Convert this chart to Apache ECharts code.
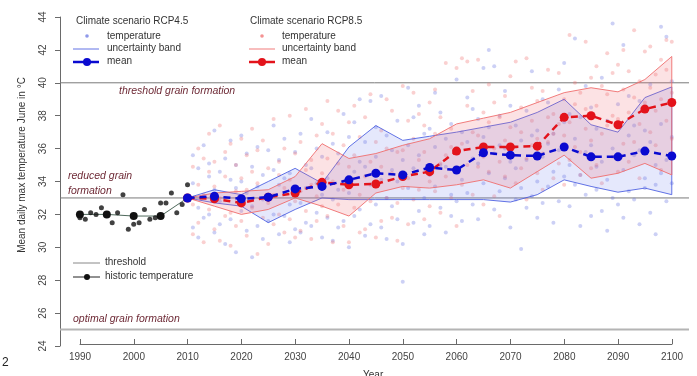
<!DOCTYPE html>
<html>
<head>
<meta charset="utf-8">
<script src="https://cdn.jsdelivr.net/npm/echarts@6/dist/echarts.min.js"></script>
<style>
html,body{margin:0;padding:0;background:#fff;}
#c{width:697px;height:376px;}
</style>
</head>
<body>
<div id="c"></div>
<script>
// ---- data ----
const projYears = [2010,2015,2020,2025,2030,2035,2040,2045,2050,2055,2060,2065,2070,2075,2080,2085,2090,2095,2100];
const rcp45Mean  = [33.0,33.1,32.95,33.05,33.55,33.7,34.1,34.5,34.4,34.85,34.7,35.75,35.6,35.55,36.1,35.5,35.5,35.85,35.55];
const rcp85Mean  = [33.0,32.95,32.7,33.05,33.3,33.95,33.8,33.85,34.3,34.6,35.85,36.1,36.1,36.15,37.9,38.0,37.45,38.4,38.8];
const rcp45Upper = [33.0,33.5,33.2,34.0,34.8,33.9,36.1,37.4,36.5,36.75,37.0,37.3,37.6,38.2,39.0,37.45,37.0,39.1,39.75];
const rcp45Lower = [33.0,32.7,32.5,31.5,32.3,33.0,32.9,32.9,32.9,32.9,32.9,32.9,32.75,33.2,34.1,33.7,33.35,33.6,33.2];
const rcp85Upper = [33.0,33.3,33.4,33.5,34.3,36.3,35.4,35.7,36.2,36.6,37.5,37.85,38.2,38.8,39.4,39.7,39.45,40.2,41.6];
const rcp85Lower = [33.0,32.5,32.0,32.3,33.0,32.5,31.9,33.3,33.7,33.6,33.8,34.1,33.6,34.6,35.6,34.2,34.5,35.1,34.4];

const histYears = [1990,1991,1992,1993,1994,1995,1996,1997,1998,1999,2000,2001,2002,2003,2004,2005,2006,2007,2008,2009,2010];
const histTemps = [31.8,31.7,32.1,32.0,32.4,32.0,31.5,32.1,33.2,31.1,31.4,31.5,32.3,31.7,31.8,32.7,32.7,33.3,32.1,32.6,33.8];
const histMeanYears = [1990,1995,2000,2005,2010];
const histMeans = [32.0,32.0,31.9,31.9,33.0];

const thresholdLevels = [25,33,40];

// yearly model values: [year, run1, run2, run3]
const rcp45Runs = [
[2011,31.2,33.9,35.6],[2012,32.4,34.8,30.6],[2013,33.1,36.2,31.8],[2014,34.3,32.0,35.1],[2015,30.9,33.5,37.1],
[2016,32.8,34.6,31.4],[2017,35.4,33.0,30.2],[2018,31.7,34.1,36.5],[2019,33.6,29.7,35.0],[2020,32.2,36.8,34.0],
[2021,31.0,33.3,35.7],[2022,34.9,32.5,29.4],[2023,33.7,36.1,31.3],[2024,30.5,34.4,32.9],[2025,35.9,33.1,31.6],
[2026,32.0,34.7,37.4],[2027,33.8,30.8,35.3],[2028,31.9,36.6,34.2],[2029,34.5,32.6,30.3],[2030,33.4,35.8,31.1],
[2031,32.7,36.9,30.9],[2032,35.0,33.6,31.5],[2033,31.3,34.8,37.8],[2034,33.9,32.1,36.0],[2035,30.6,35.5,33.2],
[2036,34.2,31.8,37.0],[2037,32.9,36.3,30.4],[2038,35.7,33.5,31.2],[2039,31.6,34.0,38.1],[2040,33.3,36.7,30.0],
[2041,34.6,31.9,37.6],[2042,32.3,35.2,39.0],[2043,30.7,34.9,36.4],[2044,33.8,38.9,31.4],[2045,35.5,32.6,37.3],
[2046,31.2,34.1,39.2],[2047,36.8,33.0,30.5],[2048,32.5,35.9,34.7],[2049,34.0,37.7,31.7],[2050,30.2,35.3,27.9],
[2051,33.6,36.2,39.7],[2052,31.5,34.8,37.9],[2053,35.6,32.2,38.6],[2054,33.0,36.9,30.8],[2055,34.4,31.3,37.2],
[2056,36.1,33.7,39.4],[2057,32.4,35.0,38.2],[2058,34.9,30.9,36.6],[2059,33.2,37.5,31.9],[2060,35.8,32.8,40.2],
[2061,34.1,37.0,31.6],[2062,36.4,33.3,39.1],[2063,32.6,35.4,38.4],[2064,35.1,31.7,37.8],[2065,33.9,36.7,40.9],
[2066,37.3,34.5,42.0],[2067,35.7,32.3,41.0],[2068,33.4,38.0,36.2],[2069,36.0,34.2,39.5],[2070,31.2,35.2,38.6],
[2071,34.8,37.4,32.9],[2072,36.5,33.6,29.9],[2073,35.3,38.3,32.4],[2074,33.1,36.8,40.7],[2075,37.1,34.0,31.8],
[2076,35.5,39.0,32.7],[2077,33.7,36.3,38.8],[2078,36.9,34.6,31.5],[2079,32.8,35.9,39.6],[2080,37.6,34.3,41.2],
[2081,35.0,32.5,38.1],[2082,36.6,42.7,33.8],[2083,34.4,37.9,31.3],[2084,35.8,33.2,39.8],[2085,36.2,31.9,38.5],
[2086,33.5,37.2,34.9],[2087,35.2,40.3,32.2],[2088,37.7,34.1,31.0],[2089,33.0,36.0,43.6],[2090,35.4,38.7,32.6],
[2091,34.7,42.3,31.8],[2092,36.8,33.4,39.2],[2093,32.9,35.6,37.4],[2094,35.9,31.4,38.9],[2095,34.2,37.1,33.6],
[2096,36.4,39.9,32.1],[2097,33.8,35.0,30.8],[2098,37.5,43.4,34.5],[2099,35.3,42.8,32.8],[2100,36.7,33.9,40.1]
];
const rcp85Runs = [
[2011,32.6,34.9,30.8],[2012,33.8,31.5,36.0],[2013,30.3,33.2,35.4],[2014,34.6,32.3,36.9],[2015,31.1,33.7,35.2],
[2016,33.0,30.4,37.4],[2017,34.3,31.9,35.8],[2018,32.1,36.3,30.1],[2019,35.0,33.4,31.3],[2020,31.6,34.2,36.6],
[2021,33.5,30.7,35.6],[2022,32.4,37.2,34.6],[2023,29.6,33.9,35.9],[2024,31.8,36.5,33.0],[2025,34.8,30.2,32.7],
[2026,33.2,37.8,31.4],[2027,35.2,32.0,34.4],[2028,30.9,36.0,33.6],[2029,34.1,31.7,38.0],[2030,32.8,35.7,30.6],
[2031,36.4,33.4,31.0],[2032,32.2,38.4,34.7],[2033,35.3,30.5,33.8],[2034,33.1,36.8,31.6],[2035,37.5,34.5,32.5],
[2036,31.9,35.4,38.9],[2037,34.0,36.9,30.3],[2038,32.6,35.1,38.3],[2039,36.2,33.5,31.3],[2040,34.9,37.6,30.3],
[2041,32.4,35.6,38.6],[2042,36.7,33.2,30.9],[2043,31.1,34.3,37.9],[2044,35.2,39.3,32.8],[2045,33.7,36.4,30.6],
[2046,31.6,37.1,34.9],[2047,36.0,33.0,39.0],[2048,34.5,38.3,31.8],[2049,32.7,35.8,30.4],[2050,35.9,33.6,39.8],
[2051,34.2,37.7,31.4],[2052,36.6,32.9,39.4],[2053,33.5,35.3,38.1],[2054,35.8,31.7,37.4],[2055,34.0,38.8,32.5],
[2056,36.9,39.6,33.4],[2057,32.1,35.1,37.9],[2058,35.6,41.2,34.3],[2059,37.2,33.0,36.1],[2060,34.7,40.9,31.3],
[2061,36.3,41.5,33.8],[2062,35.0,38.6,41.3],[2063,33.2,37.0,39.5],[2064,36.8,41.4,34.9],[2065,38.2,35.5,32.6],
[2066,34.6,37.6,39.9],[2067,36.0,33.1,38.8],[2068,37.9,35.2,31.9],[2069,34.3,39.2,36.5],[2070,37.3,35.9,40.4],
[2071,36.1,41.3,33.9],[2072,38.5,34.8,37.0],[2073,35.4,41.5,32.9],[2074,37.7,36.2,39.7],[2075,34.5,38.9,36.6],
[2076,39.5,35.7,33.5],[2077,36.4,40.8,37.9],[2078,38.1,34.2,36.9],[2079,35.1,40.6,37.5],[2080,39.0,36.8,33.8],
[2081,37.6,42.9,35.3],[2082,38.7,36.1,40.0],[2083,35.8,39.4,34.4],[2084,37.2,42.5,38.4],[2085,40.3,36.5,34.8],
[2086,38.6,35.0,41.0],[2087,36.9,39.8,33.9],[2088,39.3,37.4,41.8],[2089,35.5,38.0,40.6],[2090,37.8,41.1,34.6],
[2091,39.6,36.3,42.0],[2092,38.2,40.7,35.2],[2093,36.4,43.2,39.1],[2094,40.1,37.5,34.2],[2095,38.8,41.9,35.9],
[2096,37.0,42.2,39.7],[2097,40.5,36.2,38.3],[2098,39.0,41.4,34.7],[2099,37.7,42.6,40.8],[2100,39.4,42.5,36.6]
];

// ---- helpers ----
const X_MIN = 1986.3, X_MAX = 2103.2;
const pairs = (xs, ys) => xs.map((x, i) => [x, ys[i]]);
const flattenRuns = runs => {
  const out = [];
  runs.forEach(r => { for (let k = 1; k < r.length; k++) out.push([r[0], r[k]]); });
  return out;
};

function bandSeries(upper, lower, fill, stroke) {
  return {
    type: 'custom',
    xAxisIndex: 0, yAxisIndex: 0,
    data: [[projYears[0], upper[0]]],
    z: 3,
    silent: true,
    renderItem: function (params, api) {
      const top = projYears.map((y, i) => api.coord([y, upper[i]]));
      const bot = projYears.map((y, i) => api.coord([y, lower[i]])).reverse();
      return {
        type: 'polygon',
        shape: { points: top.concat(bot) },
        style: { fill: fill, stroke: stroke, lineWidth: 1 }
      };
    }
  };
}

const thresholdSeries = thresholdLevels.map(t => ({
  type: 'line',
  xAxisIndex: 0, yAxisIndex: 0,
  data: [[X_MIN, t], [X_MAX, t]],
  symbol: 'none',
  silent: true,
  z: 2,
  lineStyle: t === 25 ? { color: '#b4b4b4', width: 2 } : { color: '#7a7a7a', width: 1 }
}));

const FONT = '"Liberation Sans", Arial, sans-serif';
const labelColor = '#6e2a36';
const txt = (x, y, s, extra) => ({
  type: 'text', left: x, top: y,
  style: Object.assign({ text: s, fill: '#333', font: '10px ' + FONT }, extra || {})
});
const italic = (x, y, s) => txt(x, y, s, { fill: labelColor, font: 'italic 10.5px ' + FONT });

function legendDot(cx, cy, r, fill) {
  return { type: 'circle', shape: { cx: cx, cy: cy, r: r }, style: { fill: fill } };
}
function legendLine(x1, x2, y, stroke, w) {
  return { type: 'line', shape: { x1: x1, y1: y, x2: x2, y2: y }, style: { stroke: stroke, lineWidth: w } };
}

const chart = echarts.init(document.getElementById('c'), null, { renderer: 'canvas' });
chart.setOption({
  animation: false,
  backgroundColor: '#ffffff',
  textStyle: { fontFamily: FONT },
  grid: [
    { left: 60, top: 17, width: 629, height: 329 },
    { left: 80, top: 17, width: 592, height: 327 }
  ],
  xAxis: [
    { gridIndex: 0, type: 'value', min: X_MIN, max: X_MAX, show: false },
    {
      gridIndex: 1, type: 'value', min: 1990, max: 2100, interval: 10,
      axisLine: { show: true, lineStyle: { color: '#6a6a6a', width: 1 } },
      axisTick: { show: true, inside: true, length: 5, lineStyle: { color: '#6a6a6a' } },
      axisLabel: { color: '#444', fontSize: 10, margin: 8, formatter: v => String(v) },
      splitLine: { show: false }
    }
  ],
  yAxis: [
    {
      gridIndex: 0, type: 'value', min: 24, max: 44, interval: 2,
      axisLine: { show: true, lineStyle: { color: '#6a6a6a', width: 1 } },
      axisTick: { show: true, length: 5, lineStyle: { color: '#6a6a6a' } },
      axisLabel: { rotate: 90, color: '#444', fontSize: 10, margin: 12 },
      splitLine: { show: false }
    },
    { gridIndex: 1, type: 'value', min: 0, max: 1, show: false }
  ],
  series: [
    ...thresholdSeries,
    {
      type: 'scatter', xAxisIndex: 0, yAxisIndex: 0, z: 2,
      data: flattenRuns(rcp45Runs), symbol: 'circle', symbolSize: 4,
      itemStyle: { color: 'rgba(95,110,225,0.4)' }, silent: true
    },
    {
      type: 'scatter', xAxisIndex: 0, yAxisIndex: 0, z: 2,
      data: flattenRuns(rcp85Runs), symbol: 'circle', symbolSize: 4,
      itemStyle: { color: 'rgba(240,110,110,0.4)' }, silent: true
    },
    bandSeries(rcp45Upper, rcp45Lower, 'rgba(110,130,240,0.18)', 'rgba(70,90,225,0.85)'),
    bandSeries(rcp85Upper, rcp85Lower, 'rgba(240,110,120,0.2)', 'rgba(240,110,110,0.9)'),
    {
      type: 'line', xAxisIndex: 0, yAxisIndex: 0, z: 5,
      data: pairs(histMeanYears, histMeans), symbol: 'circle', symbolSize: 8,
      lineStyle: { color: '#4f6a5c', width: 1 }, itemStyle: { color: '#111' }, silent: true
    },
    {
      type: 'scatter', xAxisIndex: 0, yAxisIndex: 0, z: 5,
      data: pairs(histYears, histTemps), symbol: 'circle', symbolSize: 5,
      itemStyle: { color: '#111' }, silent: true
    },
    {
      type: 'line', xAxisIndex: 0, yAxisIndex: 0, z: 6,
      data: pairs(projYears, rcp85Mean), symbol: 'circle', symbolSize: 9,
      lineStyle: { color: '#e3131b', width: 2.5, type: [7, 5] }, itemStyle: { color: '#e3131b' }, silent: true
    },
    {
      type: 'line', xAxisIndex: 0, yAxisIndex: 0, z: 7,
      data: pairs(projYears, rcp45Mean), symbol: 'circle', symbolSize: 9,
      lineStyle: { color: '#0a0ad0', width: 2.5, type: [7, 5] }, itemStyle: { color: '#0a0ad0' }, silent: true
    }
  ],
  graphic: [
    // y axis title, reading bottom to top
    {
      type: 'text', x: 22, y: 165, rotation: Math.PI / 2,
      style: { text: 'Mean daily max temperature June in °C', fill: '#333', font: '10px ' + FONT,
               textAlign: 'center', textVerticalAlign: 'middle' }
    },
    // legend – RCP4.5
    txt(76, 16, 'Climate scenario RCP4.5'),
    legendDot(87, 36, 1.8, 'rgba(95,110,225,0.7)'),
    txt(107, 31, 'temperature'),
    legendLine(73, 99, 49, 'rgba(70,90,225,0.85)', 1),
    txt(107, 43, 'uncertainty band'),
    legendLine(73, 99, 62, '#0a0ad0', 2.5),
    legendDot(87, 62, 4, '#0a0ad0'),
    txt(107, 56, 'mean'),
    // legend – RCP8.5
    txt(250, 16, 'Climate scenario RCP8.5'),
    legendDot(262, 36, 1.8, 'rgba(240,110,110,0.75)'),
    txt(282, 31, 'temperature'),
    legendLine(249, 275, 49, 'rgba(240,110,110,0.9)', 1),
    txt(282, 43, 'uncertainty band'),
    legendLine(249, 275, 62, '#e3131b', 2.5),
    legendDot(262, 62, 4, '#e3131b'),
    txt(282, 56, 'mean'),
    // legend – threshold / historic
    legendLine(73, 100, 263, '#888', 1),
    txt(105, 257, 'threshold'),
    legendLine(73, 100, 277, '#222', 1),
    legendDot(87, 277, 3, '#111'),
    txt(105, 271, 'historic temperature'),
    // zone labels
    italic(119, 86, 'threshold grain formation'),
    italic(68, 171, 'reduced grain'),
    italic(68, 186, 'formation'),
    italic(73, 314, 'optimal grain formation'),
    // x axis title, partly below the frame
    txt(363, 370, 'Year', { fill: '#333' }),
    txt(2, 357, '2', { fill: '#222', font: '12px ' + FONT })
  ]
});
</script>
</body>
</html>
